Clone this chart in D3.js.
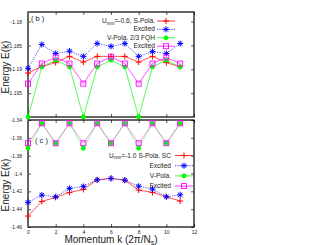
<!DOCTYPE html>
<html>
<head>
<meta charset="utf-8">
<script src="https://cdn.jsdelivr.net/npm/d3@7"></script>
<style>
  body { margin: 0; background: #fff; }
  text { font-family: "Liberation Sans", Arial, sans-serif; }
</style>
</head>
<body>
<svg id="canvas" width="316" height="245"></svg>
<script>
// momentum points
const kValues = [0, 1, 2, 3, 4, 5, 6, 7, 8, 9, 10, 11];

// panel (b), Unnn = -0.6
const bSPola = [-1.1908, -1.1894, -1.1886, -1.1873, -1.1885, -1.1873, -1.1873, -1.1873, -1.1885, -1.1873, -1.1886, -1.1895];
const bSExc  = [-1.1898, -1.1848, -1.1867, -1.1862, -1.1873, -1.1846, -1.1852, -1.1846, -1.1873, -1.1863, -1.1867, -1.1846];
const bVPola = [-1.2000, -1.1895, -1.1881, -1.1895, -1.2000, -1.1895, -1.1881, -1.1895, -1.2000, -1.1895, -1.1881, -1.1895];
const bVExc  = [-1.1930, -1.1888, -1.1875, -1.1888, -1.1930, -1.1888, -1.1874, -1.1888, -1.1930, -1.1888, -1.1875, -1.1888];

// panel (c), Unnn = -1.0
const cSPola = [-1.4477, -1.4313, -1.4268, -1.4212, -1.4179, -1.4071, -1.4055, -1.4075, -1.4186, -1.4212, -1.4261, -1.4309];
const cSExc  = [-1.4324, -1.4242, -1.4261, -1.4167, -1.4145, -1.4071, -1.4055, -1.4075, -1.4142, -1.4175, -1.4261, -1.4239];
const cVPola = [-1.3717, -1.3437, -1.3661, -1.3437, -1.3717, -1.3437, -1.3661, -1.3437, -1.3717, -1.3437, -1.3661, -1.3437];
const cVExc  = [-1.3661, -1.3437, -1.3661, -1.3437, -1.3661, -1.3437, -1.3661, -1.3437, -1.3661, -1.3437, -1.3661, -1.3437];

// ticks
const xTicks = [0, 2, 4, 6, 8, 10, 12];
const bTicks = [-1.195, -1.19, -1.185, -1.18];
const cTicks = [-1.46, -1.44, -1.42, -1.4, -1.38, -1.36, -1.34];

const bLegend = ["S-Pola.", "Excited", "V-Pola. 2/3 FQH", "Excited"];
const cLegend = ["S-Pola. SC", "Excited", "V-Pola.", "Excited"];

const svg = d3.select("#canvas");

const x = d3.scaleLinear().domain([0, 12]).range([28, 194]);
const yB = d3.scaleLinear().domain([-1.2, -1.178]).range([117, 12]);
const yC = d3.scaleLinear().domain([-1.46, -1.34]).range([227, 120]);

const styles = [
    { color: "#ff0000", dash: null, marker: "plus" },
    { color: "#0000ff", dash: "1.2,1.2", marker: "star" },
    { color: "#00ff00", dash: null, marker: "circle" },
    { color: "#ff00ff", dash: null, marker: "square" }
];

function marker(g, type, cx, cy, color) {
    if (type === "plus") {
        g.append("path").attr("d", `M${cx - 3},${cy}H${cx + 3}M${cx},${cy - 3}V${cy + 3}`)
            .attr("stroke", color).attr("stroke-width", 1).attr("fill", "none");
    } else if (type === "star") {
        g.append("path").attr("d", `M${cx - 3},${cy}H${cx + 3}M${cx},${cy - 3}V${cy + 3}` +
            `M${cx - 2.2},${cy - 2.2}L${cx + 2.2},${cy + 2.2}M${cx - 2.2},${cy + 2.2}L${cx + 2.2},${cy - 2.2}`)
            .attr("stroke", color).attr("stroke-width", 1).attr("fill", "none");
    } else if (type === "circle") {
        g.append("circle").attr("cx", cx).attr("cy", cy).attr("r", 2.4).attr("fill", color);
    } else {
        g.append("rect").attr("x", cx - 2.5).attr("y", cy - 2.5).attr("width", 5).attr("height", 5)
            .attr("fill", "none").attr("stroke", color).attr("stroke-width", 0.9);
    }
}

function series(values, y, st, opacity) {
    const g = svg.append("g");
    const line = d3.line().x((d, i) => x(kValues[i])).y(d => y(d));
    g.append("path").datum(values).attr("d", line)
        .attr("fill", "none").attr("stroke", st.color).attr("stroke-width", 0.8)
        .attr("stroke-opacity", opacity).attr("stroke-dasharray", st.dash);
    values.forEach((v, i) => marker(g, st.marker, x(kValues[i]), y(v), st.color));
}

function frame(y, ticks, fmt, showX) {
    const [y0, y1] = y.range();
    svg.append("g").attr("transform", `translate(28,0)`)
        .call(d3.axisLeft(y).tickValues(ticks).tickSize(-3).tickPadding(6).tickFormat(fmt));
    svg.append("g").attr("transform", `translate(194,0)`)
        .call(d3.axisRight(y).tickValues(ticks).tickSize(-3).tickFormat(""));
    svg.append("g").attr("transform", `translate(0,${y0})`)
        .call(d3.axisBottom(x).tickValues(xTicks).tickSize(-3).tickPadding(3).tickFormat(showX ? d3.format("d") : ""));
    svg.append("g").attr("transform", `translate(0,${y1})`)
        .call(d3.axisTop(x).tickValues(xTicks).tickSize(-3).tickFormat(""));
    svg.selectAll(".domain").remove();
    svg.selectAll(".tick line").attr("stroke", "#333").attr("stroke-width", 0.8);
    svg.selectAll(".tick text").attr("font-size", 5).attr("fill", "#222");
    svg.append("rect").attr("x", 28).attr("y", y1).attr("width", 166).attr("height", y0 - y1)
        .attr("fill", "none").attr("stroke", "#000").attr("stroke-width", 1.2);
    svg.append("line").attr("x1", 28).attr("x2", 28).attr("y1", y1).attr("y2", y0)
        .attr("stroke", "#666").attr("stroke-width", 1.8);
}

function legend(labels, textX, lineX0, lineX1, y0, dy, head) {
    labels.forEach((lab, i) => {
        const yy = y0 + i * dy;
        const st = styles[i];
        const t = svg.append("text").attr("x", textX).attr("y", yy + 2).attr("text-anchor", "end")
            .attr("font-size", 6.6).attr("fill", "#222");
        if (i === 0) {
            t.append("tspan").text("U");
            t.append("tspan").text("nnn").attr("font-size", 4.6).attr("dy", 1.5);
            t.append("tspan").text(head + " ").attr("dy", -1.5);
        }
        t.append("tspan").text(lab);
        svg.append("line").attr("x1", lineX0).attr("x2", lineX1).attr("y1", yy).attr("y2", yy)
            .attr("stroke", st.color).attr("stroke-width", 0.8).attr("stroke-dasharray", st.dash);
        marker(svg, st.marker, (lineX0 + lineX1) / 2, yy, st.color);
    });
}

const fmt = d => String(+d.toFixed(3));

// panel (b)
frame(yB, bTicks, fmt, false);
[bSPola, bSExc, bVPola, bVExc].forEach((v, i) => series(v, yB, styles[i], 0.85));
legend(bLegend, 155, 157, 175, 21, 8.4, "=-0.6,");
svg.append("text").attr("x", 31).attr("y", 21).attr("font-size", 7.5).attr("fill", "#222").text("( b )");

// panel (c)
frame(yC, cTicks, fmt, true);
[cSPola, cSExc, cVPola, cVExc].forEach((v, i) => series(v, yC, styles[i], i > 1 ? 0.55 : 0.85));
legend(cLegend, 171, 175, 193, 155.5, 10.2, "=-1.0");
svg.append("text").attr("x", 35).attr("y", 143).attr("font-size", 7.5).attr("fill", "#222").text("( c )");

// axis titles
[67, 185].forEach(cy => {
    svg.append("text").attr("transform", `translate(9,${cy}) rotate(-90)`)
        .attr("text-anchor", "middle").attr("font-size", 10).attr("fill", "#222").text("Energy E(k)");
});
const xt = svg.append("text").attr("x", 111).attr("y", 243).attr("text-anchor", "middle")
    .attr("font-size", 10).attr("fill", "#222");
xt.append("tspan").text("Momentum k (2π/N");
xt.append("tspan").text("s").attr("font-size", 7).attr("dy", 2);
xt.append("tspan").text(")").attr("dy", -2);
</script>
</body>
</html>
